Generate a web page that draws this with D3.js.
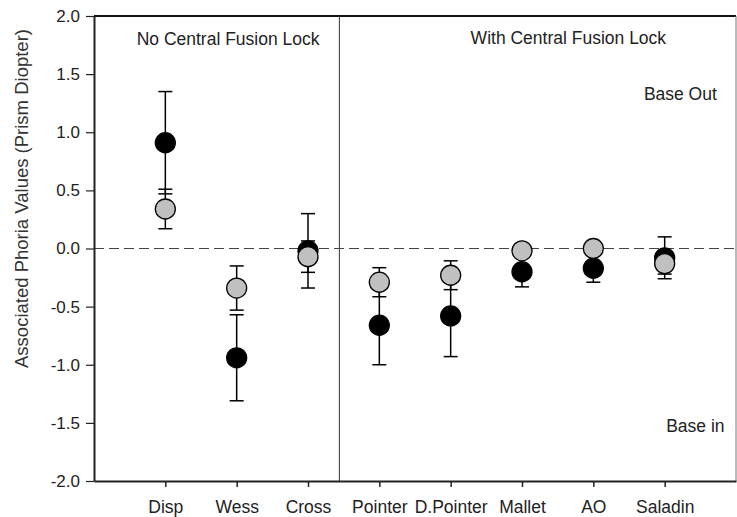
<!DOCTYPE html>
<html>
<head>
<meta charset="utf-8">
<script src="https://cdn.jsdelivr.net/npm/d3@7"></script>
<style>
  body { margin: 0; background: #fff; }
  svg { font-family: "Liberation Sans", Arial, sans-serif; }
</style>
</head>
<body>
<svg id="chart" width="737" height="517"></svg>
<script>
// categories along the x axis
var categories = ["Disp", "Wess", "Cross", "Pointer", "D.Pointer", "Mallet", "AO", "Saladin"];

// black dots (mean and error)
var blackMean = [0.91, -0.94, -0.02, -0.66, -0.58, -0.20, -0.17, -0.08];
var blackErr  = [0.44, 0.37, 0.32, 0.34, 0.35, 0.13, 0.12, 0.18];

// grey dots (mean and error)
var greyMean = [0.34, -0.34, -0.07, -0.29, -0.23, -0.02, 0.00, -0.13];
var greyErr  = [0.17, 0.19, 0.135, 0.125, 0.124, 0.05, 0.04, 0.09];

var yTicks = [-2.0, -1.5, -1.0, -0.5, 0.0, 0.5, 1.0, 1.5, 2.0];

var svg = d3.select("#chart");

var plotLeft = 94, plotRight = 736, plotTop = 16, plotBottom = 481;

// x: categories sit at 1..8 on a 0..9 range
var x = d3.scaleLinear().domain([0, 9]).range([plotLeft, plotRight]);
var y = d3.scaleLinear().domain([-2, 2]).range([plotBottom, plotTop]);

function xc(i) { return x(i + 1); }

// frame
svg.append("line").attr("x1", plotLeft).attr("x2", plotRight).attr("y1", plotTop).attr("y2", plotTop)
  .attr("stroke", "#111").attr("stroke-width", 2);
svg.append("line").attr("x1", plotRight).attr("x2", plotRight).attr("y1", plotTop).attr("y2", plotBottom)
  .attr("stroke", "#777").attr("stroke-width", 1);

// divider between the two groups
svg.append("line").attr("x1", x(3.44)).attr("x2", x(3.44)).attr("y1", plotTop).attr("y2", plotBottom)
  .attr("stroke", "#333").attr("stroke-width", 1);

// zero reference line
svg.append("line").attr("x1", plotLeft).attr("x2", plotRight).attr("y1", y(0)).attr("y2", y(0))
  .attr("stroke", "#444").attr("stroke-width", 1.2).attr("stroke-dasharray", "10,5");

// y axis (plain hyphen for negatives like the original)
var fmt = d3.format(".1f");
var yAxis = svg.append("g").attr("transform", "translate(" + plotLeft + ",0)")
  .call(d3.axisLeft(y).tickValues(yTicks)
    .tickFormat(function(d) { return fmt(d).replace("\u2212", "-"); })
    .tickSize(8).tickPadding(6).tickSizeOuter(0));
yAxis.select(".domain").attr("stroke", "#222").attr("stroke-width", 2);
yAxis.selectAll(".tick line").attr("stroke", "#222").attr("stroke-width", 1.2);
yAxis.selectAll("text").attr("font-size", 17).attr("fill", "#222")
  .attr("font-family", "'Liberation Sans', Arial, sans-serif");

// x axis
var xAxis = svg.append("g").attr("transform", "translate(0," + plotBottom + ")")
  .call(d3.axisBottom(x).tickValues(d3.range(1, categories.length + 1))
    .tickFormat(function(d) { return categories[d - 1]; }).tickSize(6).tickPadding(14).tickSizeOuter(0));
xAxis.select(".domain").attr("stroke", "#222").attr("stroke-width", 2);
xAxis.selectAll(".tick line").attr("stroke", "#222").attr("stroke-width", 1.5);
xAxis.selectAll("text").attr("font-size", 17.5).attr("fill", "#222")
  .attr("font-family", "'Liberation Sans', Arial, sans-serif");

// y axis title
svg.append("text")
  .attr("transform", "translate(28," + y(0.43) + ") rotate(-90)")
  .attr("text-anchor", "middle")
  .attr("font-size", 18.5).attr("fill", "#333")
  .text("Associated Phoria Values (Prism Diopter)");

// annotations
function note(xv, yv, txt) {
  svg.append("text").attr("x", x(xv)).attr("y", y(yv))
    .attr("text-anchor", "middle").attr("font-size", 17.5).attr("fill", "#222").text(txt);
}
note(1.88, 1.75, "No Central Fusion Lock");
note(6.65, 1.76, "With Central Fusion Lock");
note(8.22, 1.28, "Base Out");
note(8.43, -1.58, "Base in");

// error bars + dots for one series
function drawSeries(mean, err, cls, fill) {
  var g = svg.append("g").attr("class", cls);
  var data = mean.map(function(m, i) { return { i: i, m: m, e: err[i] }; });

  g.selectAll("line.whisker").data(data).enter().append("line")
    .attr("class", "whisker")
    .attr("x1", function(d) { return xc(d.i); })
    .attr("x2", function(d) { return xc(d.i); })
    .attr("y1", function(d) { return y(d.m + d.e); })
    .attr("y2", function(d) { return y(d.m - d.e); })
    .attr("stroke", "#000").attr("stroke-width", 1.5);

  [1, -1].forEach(function(s) {
    g.selectAll("line.cap" + s).data(data).enter().append("line")
      .attr("x1", function(d) { return xc(d.i) - 7; })
      .attr("x2", function(d) { return xc(d.i) + 7; })
      .attr("y1", function(d) { return y(d.m + s * d.e); })
      .attr("y2", function(d) { return y(d.m + s * d.e); })
      .attr("stroke", "#000").attr("stroke-width", 1.5);
  });

  g.selectAll("circle").data(data).enter().append("circle")
    .attr("cx", function(d) { return xc(d.i); })
    .attr("cy", function(d) { return y(d.m); })
    .attr("r", 10)
    .attr("fill", fill)
    .attr("stroke", "#000").attr("stroke-width", 1.3);
}

drawSeries(blackMean, blackErr, "black", "#000");
drawSeries(greyMean, greyErr, "grey", "#c0c0c0");
</script>
</body>
</html>
